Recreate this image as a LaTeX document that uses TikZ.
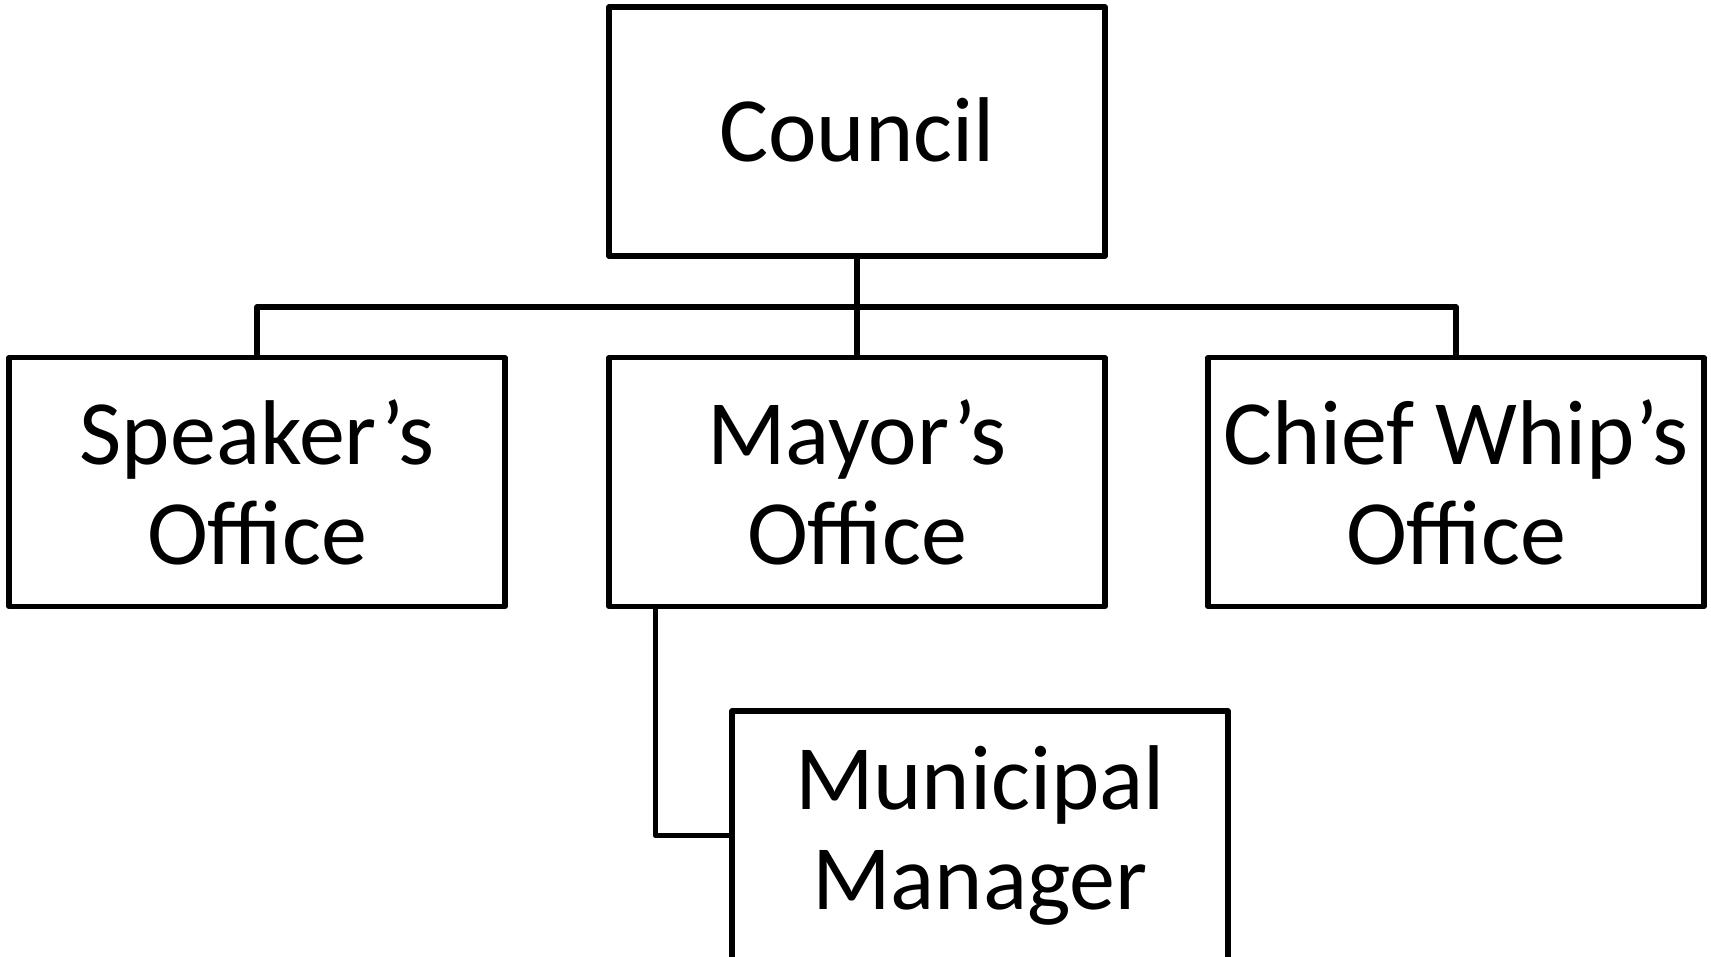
\documentclass[tikz,border=0pt]{standalone}
\usepackage{fontspec}
\setmainfont{Carlito}
\tikzset{
  office/.style={draw, line width=2.6pt, line join=round, fill=white, minimum width=248pt, minimum height=124.5pt, inner sep=0pt, align=center, font=\fontsize{46pt}{50pt}\selectfont},
  link/.style={line width=2.6pt, line join=round}
}
\begin{document}
\begin{tikzpicture}
\useasboundingbox (0,0) rectangle (855.5pt,-478.5pt);
\node[office] (council) at (428.5pt,-65.75pt) {\raisebox{2pt}{Council}};
\node[office] (speaker) at (128.5pt,-241pt) {Speaker’s\\Office};
\node[office] (mayor) at (428.5pt,-241pt) {Mayor’s\\Office};
\node[office] (whip) at (728pt,-241pt) {Chief Whip’s\\Office};
\node[office] (manager) at (490pt,-417.75pt) {Municipal\\Manager};

\coordinate (bus) at (428.5pt,-153.5pt);
\draw[link] (council.south) -- (mayor.north);
\draw[link] (speaker.north) |- (bus) -| (whip.north);
\draw[link] ([xshift=24.5pt]mayor.south west) |- (manager.west);
\end{tikzpicture}
\end{document}
